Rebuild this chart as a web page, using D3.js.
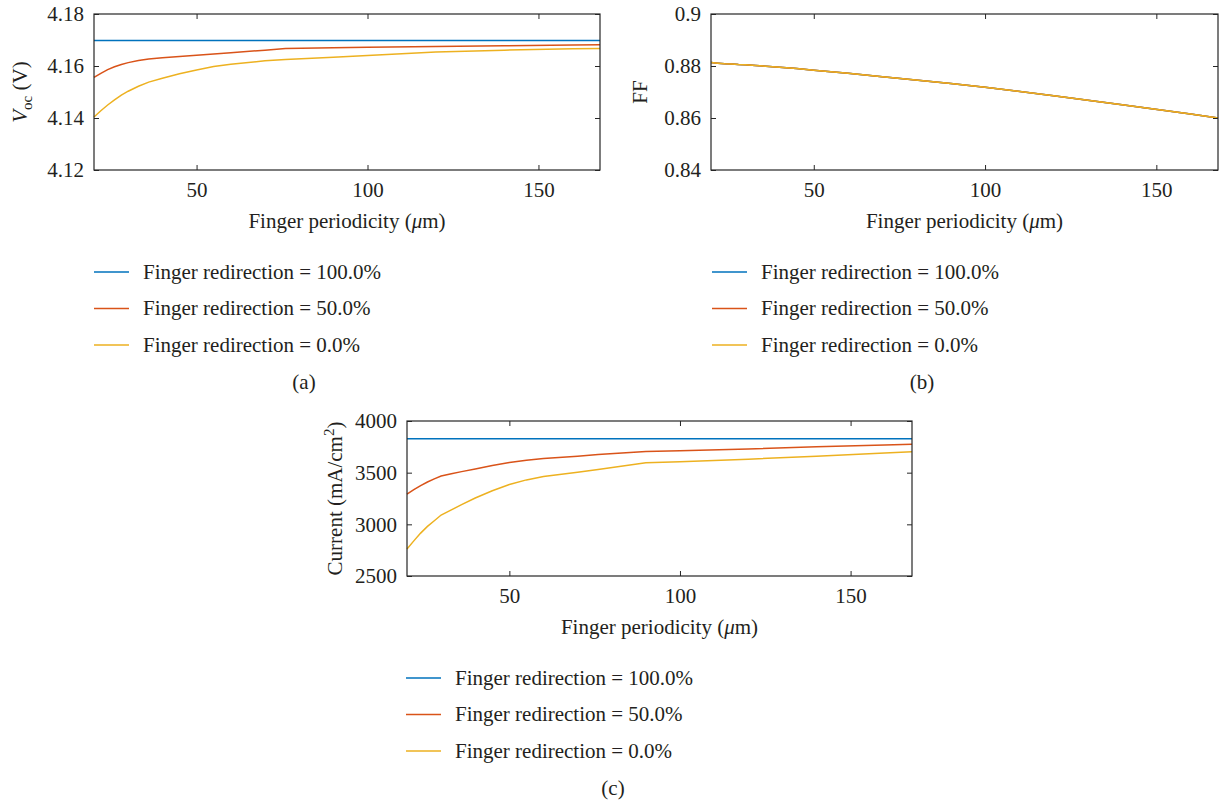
<!DOCTYPE html>
<html>
<head>
<meta charset="utf-8">
<script src="https://cdn.jsdelivr.net/npm/d3@7"></script>
<style>
  body { margin: 0; background: #fff; }
  svg text { font-family: "Liberation Serif", "Times New Roman", serif; fill: #231f20; }
</style>
</head>
<body>
<svg id="chart" width="1220" height="803"></svg>
<script>
// finger periodicity (um), shared by every curve
const periodicity = [20, 22, 24, 26, 28, 30, 33, 36, 40, 45, 50, 55, 60, 70, 76, 90, 100, 120, 140, 160, 168];

// (a) open-circuit voltage (V)
const voc100 = [4.1698, 4.1698, 4.1698, 4.1698, 4.1698, 4.1698, 4.1698, 4.1698, 4.1698, 4.1698, 4.1698,
  4.1698, 4.1698, 4.1698, 4.1698, 4.1698, 4.1698, 4.1698, 4.1698, 4.1698, 4.1698];
const voc50 = [4.1556, 4.1572, 4.1586, 4.1597, 4.1606, 4.1613, 4.1621, 4.1627, 4.1632, 4.1637, 4.1641,
  4.1646, 4.1651, 4.1661, 4.1667, 4.1670, 4.1672, 4.1675, 4.1678, 4.1681, 4.1682];
const voc0 = [4.1404, 4.1428, 4.1450, 4.1470, 4.1488, 4.1503, 4.1522, 4.1538, 4.1553, 4.1570, 4.1585,
  4.1598, 4.1607, 4.1620, 4.1625, 4.1634, 4.1640, 4.1654, 4.1661, 4.1666, 4.1667];

// (b) fill factor, the three curves coincide
const ff100 = [0.8813, 0.8811, 0.8809, 0.8808, 0.8806, 0.8805, 0.8802, 0.8799, 0.8795, 0.8790, 0.8784,
  0.8778, 0.8772, 0.8759, 0.8751, 0.8733, 0.8718, 0.8686, 0.8651, 0.8615, 0.8600];
const ff50 = [0.8813, 0.8811, 0.8809, 0.8808, 0.8806, 0.8805, 0.8802, 0.8799, 0.8795, 0.8790, 0.8784,
  0.8778, 0.8772, 0.8759, 0.8751, 0.8733, 0.8718, 0.8686, 0.8651, 0.8615, 0.8600];
const ff0 = [0.8813, 0.8811, 0.8809, 0.8808, 0.8806, 0.8805, 0.8802, 0.8799, 0.8795, 0.8790, 0.8784,
  0.8778, 0.8772, 0.8759, 0.8751, 0.8733, 0.8718, 0.8686, 0.8651, 0.8615, 0.8600];

// (c) current (mA/cm2)
const cur100 = [3828, 3828, 3828, 3828, 3828, 3828, 3828, 3828, 3828, 3828, 3828,
  3828, 3828, 3828, 3828, 3828, 3828, 3828, 3828, 3828, 3828];
const cur50 = [3292, 3335, 3375, 3410, 3440, 3468, 3490, 3510, 3535, 3570, 3598,
  3620, 3636, 3660, 3675, 3705, 3712, 3730, 3750, 3768, 3775];
const cur0 = [2762, 2840, 2915, 2980, 3035, 3090, 3140, 3190, 3255, 3325, 3385,
  3430, 3462, 3505, 3530, 3595, 3605, 3630, 3660, 3690, 3703];

const seriesNames = ["Finger redirection = 100.0%", "Finger redirection = 50.0%", "Finger redirection = 0.0%"];
const seriesColors = ["#0072bd", "#d95319", "#edb120"];
const xTicks = [50, 100, 150];
const xDomain = [20, 168];

const svg = d3.select("#chart");
const frameColor = "#262626";
const fontSize = 21;

function drawPanel(p) {
  const x = d3.scaleLinear().domain(xDomain).range([p.left, p.right]);
  const y = d3.scaleLinear().domain(p.yDomain).range([p.bottom, p.top]);
  const g = svg.append("g");

  const line = d3.line()
    .x((d) => x(d[0]))
    .y((d) => y(d[1]));

  p.series.forEach((vals, i) => {
    g.append("path")
      .datum(periodicity.map((v, j) => [v, vals[j]]))
      .attr("d", line)
      .attr("fill", "none")
      .attr("stroke", seriesColors[i])
      .attr("stroke-width", 1.5);
  });

  // axes with inward ticks on all four sides
  const styleAxis = (sel) => {
    sel.select(".domain").remove();
    sel.selectAll(".tick line").attr("stroke", frameColor);
    sel.selectAll(".tick text")
      .style("font-family", '"Liberation Serif", serif')
      .attr("fill", "#231f20")
      .attr("font-size", fontSize);
  };

  g.append("g")
    .attr("transform", `translate(0,${p.bottom})`)
    .call(d3.axisBottom(x).tickValues(xTicks).tickSizeInner(-5).tickSizeOuter(0).tickPadding(12))
    .call(styleAxis);
  g.append("g")
    .attr("transform", `translate(0,${p.top})`)
    .call(d3.axisTop(x).tickValues(xTicks).tickSizeInner(-5).tickSizeOuter(0).tickFormat(""))
    .call(styleAxis);
  g.append("g")
    .attr("transform", `translate(${p.left},0)`)
    .call(d3.axisLeft(y).tickValues(p.yTicks).tickSizeInner(-5).tickSizeOuter(0).tickPadding(10).tickFormat(d3.format("~g")))
    .call(styleAxis);
  g.append("g")
    .attr("transform", `translate(${p.right},0)`)
    .call(d3.axisRight(y).tickValues(p.yTicks).tickSizeInner(-5).tickSizeOuter(0).tickFormat(""))
    .call(styleAxis);

  g.append("rect")
    .attr("x", p.left)
    .attr("y", p.top)
    .attr("width", p.right - p.left)
    .attr("height", p.bottom - p.top)
    .attr("fill", "none")
    .attr("stroke", frameColor)
    .attr("stroke-width", 1.2);

  // x title
  const xt = g.append("text")
    .attr("x", (p.left + p.right) / 2)
    .attr("y", p.bottom + 58)
    .attr("text-anchor", "middle")
    .attr("font-size", fontSize);
  xt.append("tspan").text("Finger periodicity (");
  xt.append("tspan").attr("font-style", "italic").text("\u03bc");
  xt.append("tspan").text("m)");

  // y title
  const yt = g.append("text")
    .attr("transform", `translate(${p.yTitleX},${(p.top + p.bottom) / 2}) rotate(-90)`)
    .attr("text-anchor", "middle")
    .attr("font-size", fontSize);
  p.yTitle(yt);

  // legend
  const lg = g.append("g");
  seriesNames.forEach((name, i) => {
    const ly = p.legendTop + i * 36.5;
    lg.append("line")
      .attr("x1", p.legendX)
      .attr("x2", p.legendX + 35)
      .attr("y1", ly)
      .attr("y2", ly)
      .attr("stroke", seriesColors[i])
      .attr("stroke-width", 1.3);
    lg.append("text")
      .attr("x", p.legendX + 49)
      .attr("y", ly)
      .attr("dy", "0.33em")
      .attr("font-size", fontSize)
      .text(name);
  });

  g.append("text")
    .attr("x", p.captionX)
    .attr("y", p.captionY)
    .attr("text-anchor", "middle")
    .attr("dy", "0.33em")
    .attr("font-size", fontSize)
    .text(p.caption);
}

drawPanel({
  left: 94, right: 600, top: 14, bottom: 170,
  yDomain: [4.12, 4.18], yTicks: [4.12, 4.14, 4.16, 4.18],
  series: [voc100, voc50, voc0],
  yTitleX: 27,
  yTitle: (t) => {
    t.append("tspan").attr("font-style", "italic").text("V");
    t.append("tspan").attr("font-size", 15).attr("dy", 5).text("oc");
    t.append("tspan").attr("dy", -5).text(" (V)");
  },
  legendX: 94, legendTop: 272, caption: "(a)", captionX: 304, captionY: 382,
});

drawPanel({
  left: 711, right: 1218, top: 14, bottom: 170,
  yDomain: [0.84, 0.9], yTicks: [0.84, 0.86, 0.88, 0.9],
  series: [ff100, ff50, ff0],
  yTitleX: 647,
  yTitle: (t) => t.text("FF"),
  legendX: 712, legendTop: 272, caption: "(b)", captionX: 922, captionY: 382,
});

drawPanel({
  left: 407, right: 912, top: 421, bottom: 576,
  yDomain: [2500, 4000], yTicks: [2500, 3000, 3500, 4000],
  series: [cur100, cur50, cur0],
  yTitleX: 342,
  yTitle: (t) => {
    t.append("tspan").text("Current (mA/cm");
    t.append("tspan").attr("font-size", 15).attr("dy", -8).text("2");
    t.append("tspan").attr("dy", 8).text(")");
  },
  legendX: 406, legendTop: 678, caption: "(c)", captionX: 613, captionY: 788,
});
</script>
</body>
</html>
